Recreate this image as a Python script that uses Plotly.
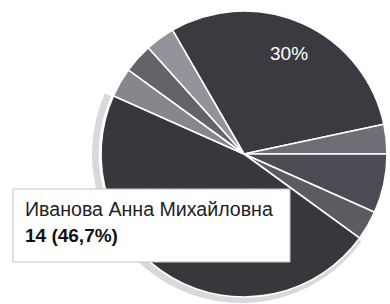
import math
import plotly.graph_objects as go

W, H = 390, 304

# Data (clockwise from the 11 o'clock start)
labels = ["Кандидат 1", "Кандидат 2", "Кандидат 3", "Кандидат 4",
          "Иванова Анна Михайловна", "Кандидат 6", "Кандидат 7", "Кандидат 8"]
votes = [9, 1, 2, 1, 14, 1, 1, 1]
slice_colors = ["#3c3940", "#706d76", "#4d4a53", "#5d5a61",
                "#39363c", "#88868c", "#65626a", "#94929a"]
highlight = "Иванова Анна Михайловна"
labelled = ["Кандидат 1"]

START_ANGLE = -30  # degrees, clockwise from 12 o'clock

total = sum(votes)
hi_idx = labels.index(highlight)
hi_val = votes[hi_idx]
hi_pct = f"{hi_val / total * 100:.1f}".replace(".", ",")

def px_x(p):
    return p / W

def px_y(p):
    return 1 - p / H

# pie geometry (pixels)
CX, CY, R = 244, 154, 143

fig = go.Figure()

# hover ring behind the highlighted slice
ring_colors = ["#d8d8dd" if l == highlight else "rgba(0,0,0,0)" for l in labels]
fig.add_trace(go.Pie(
    labels=labels, values=votes, sort=False, direction="clockwise", rotation=START_ANGLE,
    hole=0.955,
    marker=dict(colors=ring_colors, line=dict(width=0)),
    textinfo="none", hoverinfo="skip", showlegend=False,
    domain=dict(x=[0.2359, 1.0], y=[0.0033, 0.9836]),
))

# main pie
fig.add_trace(go.Pie(
    labels=labels, values=votes, sort=False, direction="clockwise", rotation=START_ANGLE,
    marker=dict(colors=slice_colors, line=dict(color="white", width=1.6)),
    textinfo="none", hoverinfo="skip", showlegend=False,
    domain=dict(x=[(CX - R) / W, (CX + R) / W], y=[(H - CY - R) / H, (H - CY + R) / H]),
))

# percentage labels placed at each labelled slice's mid-angle
cum = 0
for lab, v in zip(labels, votes):
    mid = START_ANGLE + (cum + v / 2) / total * 360
    cum += v
    if lab not in labelled:
        continue
    a = math.radians(mid)
    rr = 0.77 * R
    fig.add_annotation(x=px_x(CX + rr * math.sin(a)), y=px_y(CY - rr * math.cos(a)),
                       xref="paper", yref="paper", showarrow=False,
                       xanchor="center", yanchor="middle",
                       text=f"{round(v / total * 100)}%",
                       font=dict(size=19, color="white", family="Liberation Sans, Arial, sans-serif"))

# tooltip box
fig.add_shape(type="rect", xref="paper", yref="paper", layer="above",
              x0=px_x(13), x1=px_x(290), y0=px_y(262), y1=px_y(189),
              fillcolor="white", line=dict(color="#c4c4c4", width=1))

fig.add_annotation(x=px_x(23), y=px_y(209), xref="paper", yref="paper",
                   xanchor="left", yanchor="middle", showarrow=False,
                   text=highlight,
                   font=dict(size=19.6, color="#222222", family="Liberation Sans, Arial, sans-serif"))
fig.add_annotation(x=px_x(23), y=px_y(235), xref="paper", yref="paper",
                   xanchor="left", yanchor="middle", showarrow=False,
                   text=f"<b>{hi_val} ({hi_pct}%)</b>",
                   font=dict(size=19, color="#111111", family="Liberation Sans, Arial, sans-serif"))

fig.update_layout(width=W, height=H, margin=dict(l=0, r=0, t=0, b=0),
                  paper_bgcolor="white", plot_bgcolor="white")

fig.write_html("out.html", config={"displayModeBar": False},
               post_script="document.body.style.margin='0';")
